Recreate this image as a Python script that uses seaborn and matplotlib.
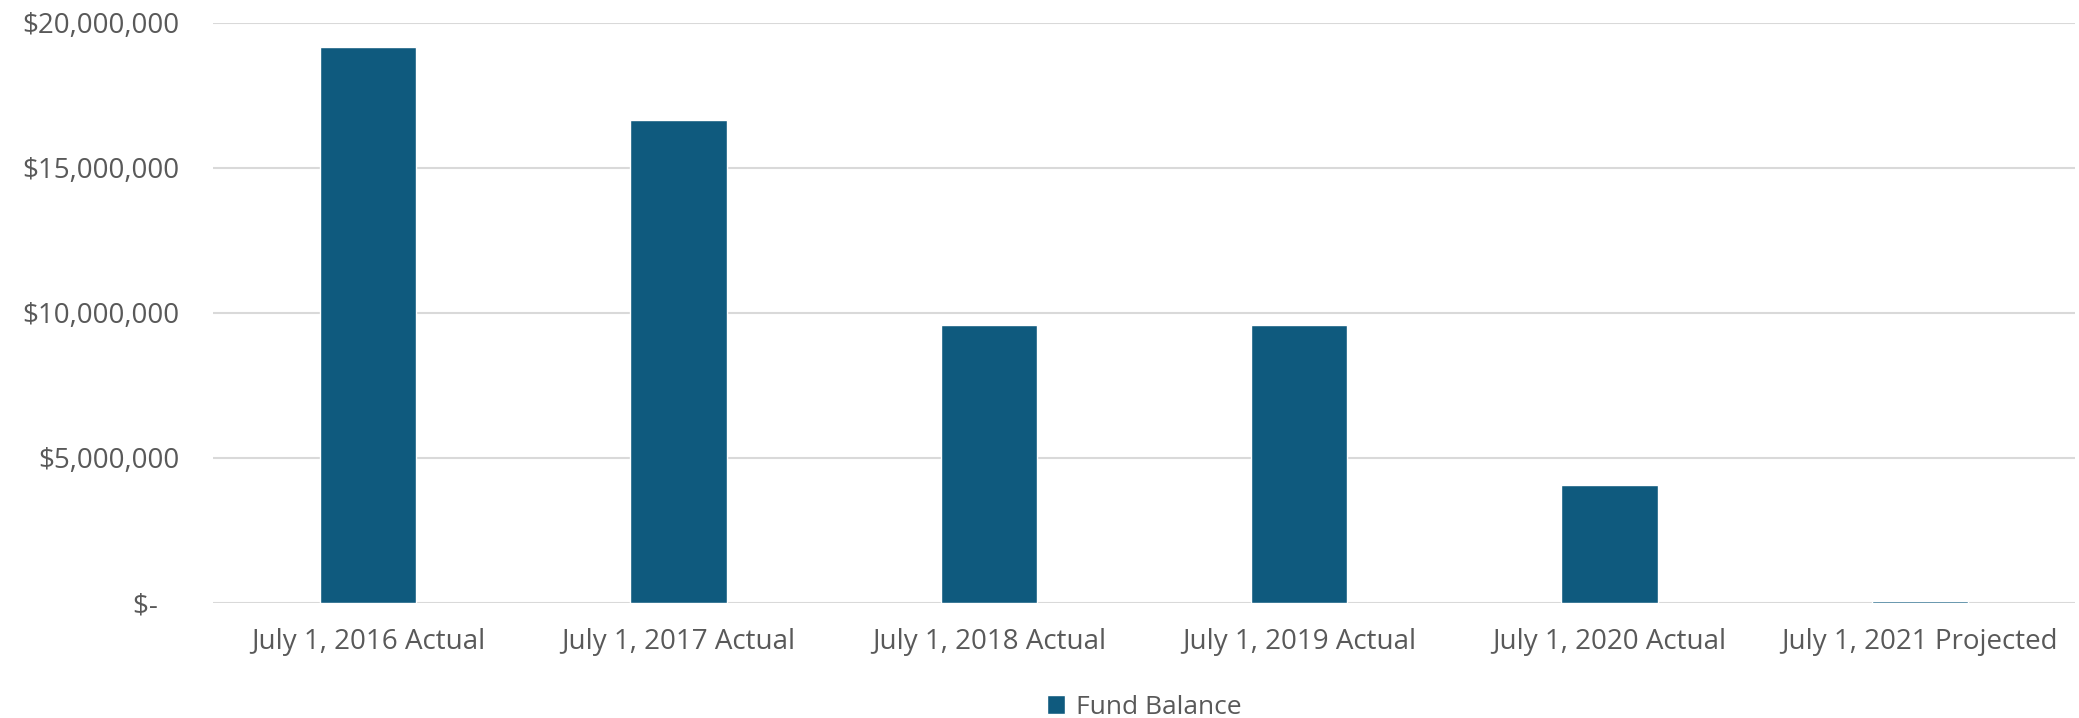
import matplotlib
matplotlib.use("Agg")
import matplotlib.pyplot as plt
import matplotlib.ticker as mticker
import seaborn as sns
import pandas as pd

categories = ["July 1, 2016 Actual", "July 1, 2017 Actual", "July 1, 2018 Actual",
              "July 1, 2019 Actual", "July 1, 2020 Actual", "July 1, 2021 Projected"]
fund_balance = [19170000, 16640000, 9570000, 9560000, 4050000, 50000]
series_name = "Fund Balance"
yticks = [0, 5000000, 10000000, 15000000, 20000000]

sns.set_theme(style="white")
plt.rcParams['font.family'] = ['Open Sans', 'DejaVu Sans']

df = pd.DataFrame({"Category": categories, "Value": fund_balance, "Series": series_name})

fig = plt.figure(figsize=(20.79, 7.18), dpi=100)
ax = fig.add_axes([213/2079, 1 - 602.7/718, (2075-213)/2079, 580/718])

sns.barplot(data=df, x="Category", y="Value", hue="Series", palette=["#0F5A7E"],
            width=0.31, ax=ax, saturation=1, legend=True)

ax.set_ylim(0, 20000000)
ax.set_xlim(-0.5, 5.5)
ax.set_yticks(yticks)

def fmt(v, pos):
    if v == 0:
        return "$-   "
    return "${:,.0f}".format(v)

ax.yaxis.set_major_formatter(mticker.FuncFormatter(fmt))
ax.grid(axis="y", color="#D9D9D9", linewidth=1.5)
ax.set_axisbelow(True)
for s in ax.spines.values():
    s.set_visible(False)
ax.set_xlabel("")
ax.set_ylabel("")
ax.tick_params(axis="both", colors="#595959", labelsize=20, length=0)
ax.tick_params(axis="y", pad=24)
ax.tick_params(axis="x", pad=18)

leg = ax.legend(loc="center", bbox_to_anchor=(0.5, (602.7-707)/580), frameon=False,
                fontsize=19, handlelength=0.7, handleheight=0.7, handletextpad=0.4)
for t in leg.get_texts():
    t.set_color("#595959")

fig.savefig("out.png", dpi=100)
